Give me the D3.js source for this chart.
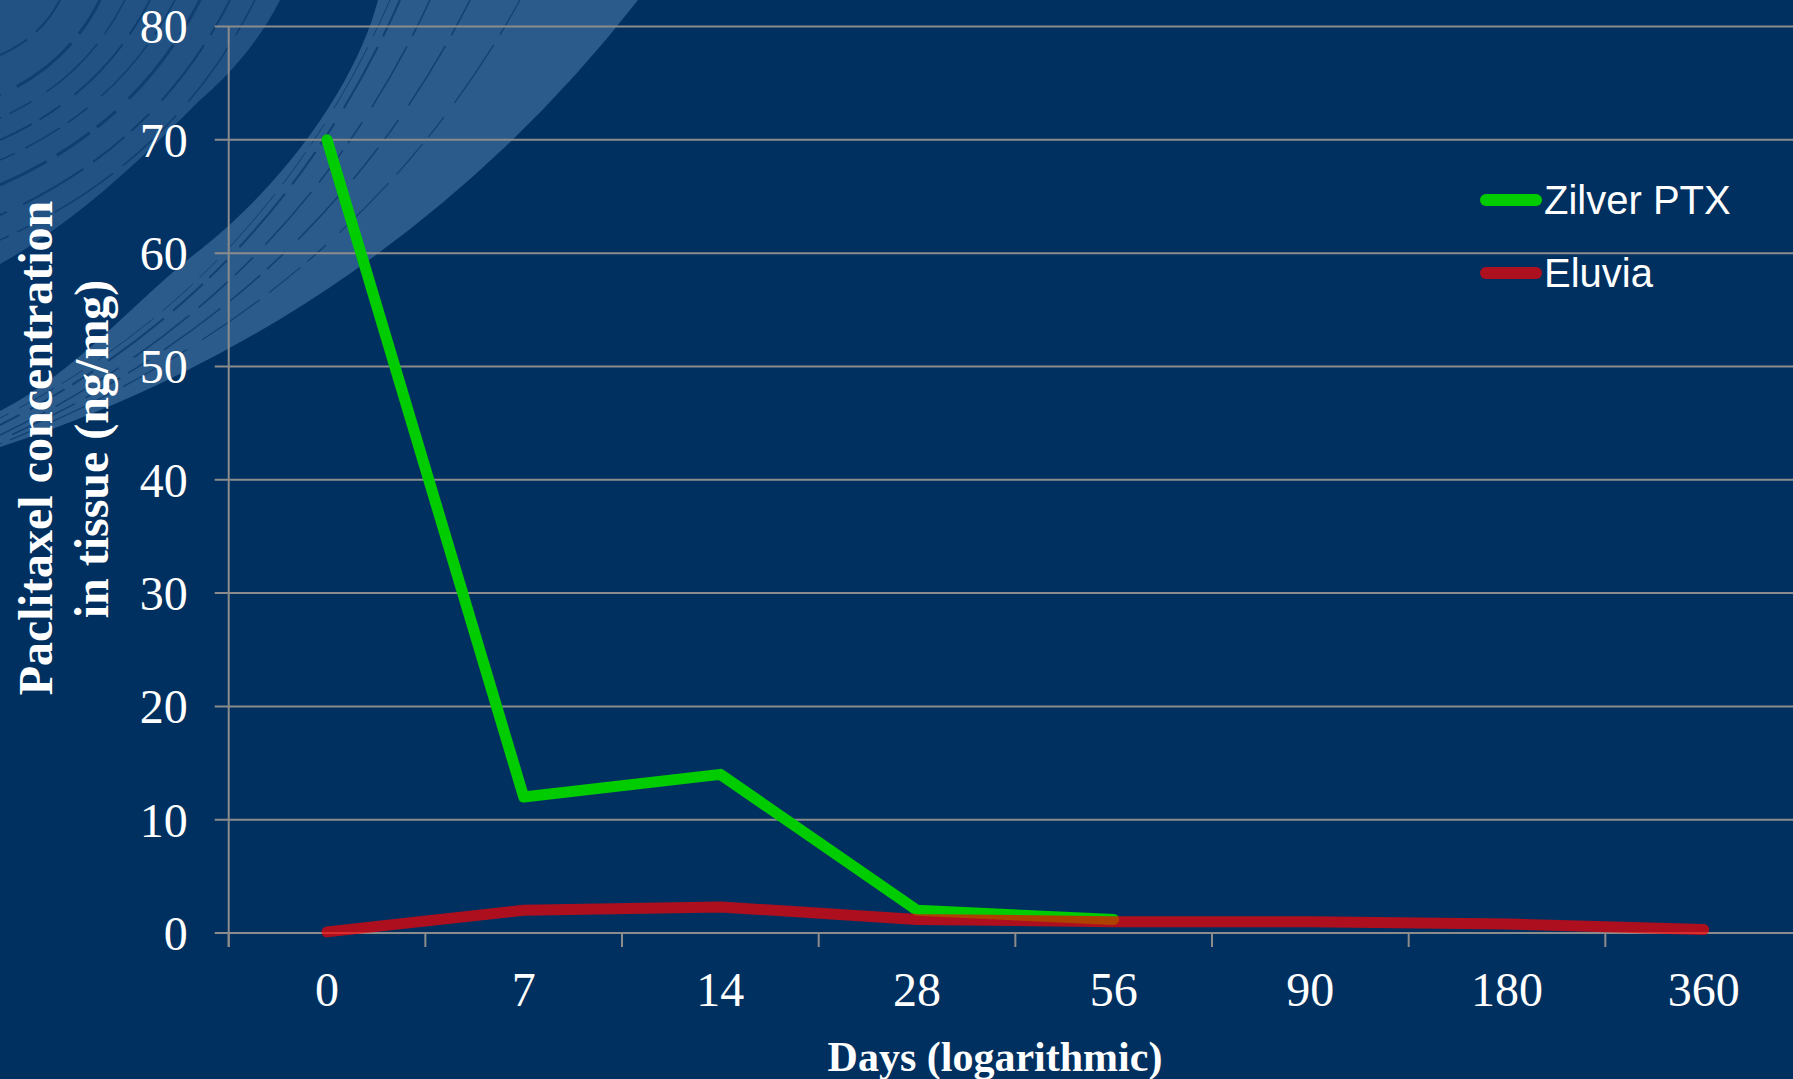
<!DOCTYPE html>
<html>
<head>
<meta charset="utf-8">
<script src="https://cdn.jsdelivr.net/npm/d3@7"></script>
<style>
  html, body { margin: 0; padding: 0; background: #00305F; }
  svg { display: block; }
</style>
</head>
<body>
<svg id="chart" width="1793" height="1079"></svg>
<script>
// ---- data ----
const categories = ["0", "7", "14", "28", "56", "90", "180", "360"];
const zilverPTX = [70, 12, 14, 2.0, 1.2];            // days 0..56
const eluvia    = [0.1, 2.0, 2.3, 1.2, 1.0, 1.0, 0.8, 0.3];
const yTicks = [0, 10, 20, 30, 40, 50, 60, 70, 80];
const seriesNames = ["Zilver PTX", "Eluvia"];

(function () {
// ---- layout ----
const W = 1793, H = 1079;
const plotLeft = 228.7, plotRight = 1802, plotTop = 26.5, plotBottom = 933;
const svg = d3.select("#chart");

svg.append("rect").attr("width", W).attr("height", H).attr("fill", "#00305F");

// decorative brush stroke (top-left)
const deco = svg.append("g");
deco.append("path")
  .attr("d", "M0,0 L638,0 A1320,1320 0 0,1 0,447 Z")
  .attr("fill", "#2A5B8B");
deco.append("path")
  .attr("d", "M0,0 L280,0 C260,40 230,75 200,100 C150,150 80,220 0,264 Z")
  .attr("fill", "#225283");
deco.append("path")
  .attr("d", "M280,0 L378,0 C360,70 300,170 200,250 C140,295 80,370 0,411 L0,264 C80,220 150,150 200,100 C230,75 260,40 280,0 Z")
  .attr("fill", "#033365");
const streaks = [
  [230, 0, 0, 215, 2], [200, 0, 0, 185, 3], [150, 0, 0, 140, 2], [100, 0, 0, 95, 3],
  [60, 0, 0, 55, 2], [255, 0, 0, 240, 1.5], [175, 0, 0, 160, 1.5], [125, 0, 0, 118, 1.5],
  [400, 0, 0, 425, 2], [430, 0, 0, 435, 1.5], [470, 0, 0, 440, 1.5], [520, 0, 0, 444, 1.2],
  [390, 0, 0, 418, 1]
];
streaks.forEach(s => {
  const [x1, y1, x2, y2, w] = s;
  deco.append("path")
    .attr("d", `M${x1},${y1} Q${(x1 + x2) / 2 + 0.18 * x1},${(y1 + y2) / 2 + 0.18 * y2} ${x2},${y2}`)
    .attr("fill", "none")
    .attr("stroke", "#0B3A6A")
    .attr("stroke-width", w)
    .attr("stroke-dasharray", "40 12 70 18 25 9")
    .attr("opacity", 0.8);
});

// ---- scales ----
const x = d3.scaleBand().domain(categories).range([plotLeft, plotRight]).padding(0);
const y = d3.scaleLinear().domain([0, 80]).range([plotBottom, plotTop]);
const cx = c => x(c) + x.bandwidth() / 2;

// gridlines
svg.append("g").selectAll("line").data(yTicks).join("line")
  .attr("x1", plotLeft - 14).attr("x2", W)
  .attr("y1", d => y(d)).attr("y2", d => y(d))
  .attr("stroke", "#8C8C8C").attr("stroke-width", 2);

// y axis line
svg.append("line")
  .attr("x1", plotLeft).attr("x2", plotLeft).attr("y1", y(80)).attr("y2", plotBottom + 14)
  .attr("stroke", "#8C8C8C").attr("stroke-width", 2);

// x tick marks at band boundaries
const edges = d3.range(categories.length + 1).map(i => plotLeft + i * x.step());
svg.append("g").selectAll("line").data(edges).join("line")
  .attr("x1", d => d).attr("x2", d => d)
  .attr("y1", plotBottom).attr("y2", plotBottom + 14)
  .attr("stroke", "#8C8C8C").attr("stroke-width", 2);

const serif = "'Liberation Serif', 'Times New Roman', serif";

// y axis labels
const yAxis = svg.append("g").attr("transform", `translate(${plotLeft},0)`)
  .call(d3.axisLeft(y).tickValues(yTicks).tickSize(0).tickPadding(41));
yAxis.select(".domain").remove();
yAxis.selectAll("text")
  .attr("fill", "#FFFFFF")
  .attr("font-family", serif)
  .attr("font-size", 48)
  .attr("dy", "0.34em");

// x axis labels
const xAxis = svg.append("g").attr("transform", `translate(0,${plotBottom})`)
  .call(d3.axisBottom(x).tickSize(0));
xAxis.select(".domain").remove();
xAxis.selectAll("text")
  .attr("fill", "#FFFFFF")
  .attr("font-family", serif)
  .attr("font-size", 48)
  .attr("y", 73).attr("dy", 0);

// axis titles
svg.append("text")
  .attr("x", 995).attr("y", 1071)
  .attr("text-anchor", "middle")
  .attr("font-family", serif).attr("font-weight", "bold").attr("font-size", 42)
  .attr("fill", "#FFFFFF")
  .text("Days (logarithmic)");
svg.append("text")
  .attr("transform", "translate(52,448) rotate(-90)")
  .attr("text-anchor", "middle")
  .attr("font-family", serif).attr("font-weight", "bold").attr("font-size", 48)
  .attr("fill", "#FFFFFF")
  .text("Paclitaxel concentration");
svg.append("text")
  .attr("transform", "translate(108,449) rotate(-90)")
  .attr("text-anchor", "middle")
  .attr("font-family", serif).attr("font-weight", "bold").attr("font-size", 48)
  .attr("fill", "#FFFFFF")
  .text("in tissue (ng/mg)");

// ---- lines ----
const lineGen = d3.line().x((d, i) => cx(categories[i])).y(d => y(d));
svg.append("path")
  .datum(zilverPTX)
  .attr("d", lineGen)
  .attr("fill", "none")
  .attr("stroke", "#00CC00")
  .attr("stroke-width", 11)
  .attr("stroke-linejoin", "round")
  .attr("stroke-linecap", "round");
svg.append("path")
  .datum(eluvia)
  .attr("d", lineGen)
  .attr("fill", "none")
  .attr("stroke", "#FF0000")
  .attr("stroke-opacity", 0.68)
  .attr("stroke-width", 11)
  .attr("stroke-linejoin", "round")
  .attr("stroke-linecap", "round");

// ---- legend ----
const legendColors = ["#00CC00", "#AD101F"];
const legendY = [200, 273];
const lg = svg.append("g");
seriesNames.forEach((name, i) => {
  lg.append("line")
    .attr("x1", 1486).attr("x2", 1536)
    .attr("y1", legendY[i]).attr("y2", legendY[i])
    .attr("stroke", legendColors[i]).attr("stroke-width", 12)
    .attr("stroke-linecap", "round");
  lg.append("text")
    .attr("x", 1544).attr("y", legendY[i] + 14)
    .attr("font-family", "'Liberation Sans', Arial, sans-serif")
    .attr("font-size", 40)
    .attr("fill", "#FFFFFF")
    .text(name);
});
})();
</script>
</body>
</html>
